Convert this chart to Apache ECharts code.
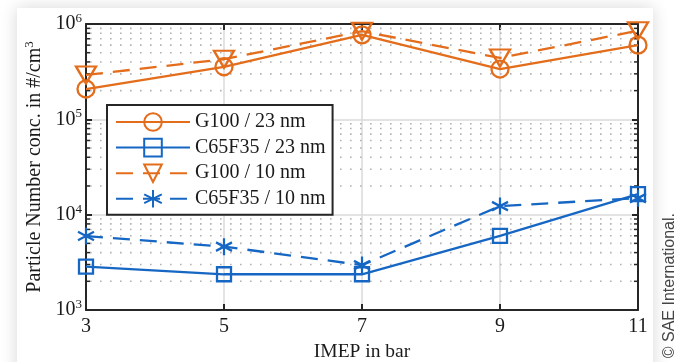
<!DOCTYPE html>
<html>
<head>
<meta charset="utf-8">
<script src="https://cdn.jsdelivr.net/npm/echarts@6/dist/echarts.min.js"></script>
<style>
  html, body { margin: 0; padding: 0; width: 689px; height: 362px; background: #ffffff; overflow: hidden; }
  #card { position: absolute; left: 17px; top: 8px; width: 636px; height: 400px; background: #ffffff;
          box-shadow: 0 0 16px rgba(0, 0, 0, 0.16); }
  #chart { position: absolute; left: 0; top: 0; width: 689px; height: 362px; }
</style>
</head>
<body>
<div id="card"></div>
<div id="chart"></div>
<script>
// IMEP operating points (bar)
const imep = [3, 5, 7, 9, 11];
// Particle number concentration, #/cm^3
const g100_23nm   = [2.08e5, 3.56e5, 7.7e5, 3.37e5, 6.0e5];
const c65f35_23nm = [2.85e3, 2.37e3, 2.37e3, 6.0e3, 1.64e4];
const g100_10nm   = [2.92e5, 4.27e5, 8.4e5, 4.4e5, 8.5e5];
const c65f35_10nm = [5.97e3, 4.62e3, 2.96e3, 1.23e4, 1.49e4];

const seriesNames = ['G100 / 23 nm', 'C65F35 / 23 nm', 'G100 / 10 nm', 'C65F35 / 10 nm'];
const xTicks = [3, 5, 7, 9, 11];
const decades = [1e3, 1e4, 1e5, 1e6];
// minor log ticks 2..9 within each decade
const minorTicks = [];
decades.slice(0, 3).forEach(d => { for (let m = 2; m <= 9; m++) minorTicks.push(m * d); });

const ORANGE = '#e36d1b';
const BLUE = '#1667c3';
const INK = '#1a1a1a';
const SERIF = '"Liberation Serif", "Times New Roman", serif';
const ASTERISK = 'path://M0,-10L0,10M-8.66,-5L8.66,5M-8.66,5L8.66,-5';

const pairs = arr => imep.map((x, i) => [x, arr[i]]);

function lineSeries(name, data, color, symbol, size, dashed, rotate) {
  return {
    name, type: 'line', data, z: 5,
    symbol, symbolSize: size, symbolRotate: rotate || 0, symbolKeepAspect: false,
    showAllSymbol: true,
    lineStyle: { color, width: 2.3, type: dashed ? [17, 10] : 'solid' },
    itemStyle: { color: 'transparent', borderColor: color, borderWidth: 2.3 },
    emphasis: { disabled: true }
  };
}

const supRich = (size) => ({
  b: { fontFamily: SERIF, fontSize: size, color: INK, lineHeight: size + 4 },
  s: { fontFamily: SERIF, fontSize: 13, color: INK, verticalAlign: 'top', lineHeight: 13, padding: [0, 0, 9, 0] }
});

const chart = echarts.init(document.getElementById('chart'), null, { renderer: 'canvas' });
const option = {
  animation: false,
  backgroundColor: 'transparent',
  grid: { left: 86, top: 24, width: 552, height: 286, containLabel: false, outerBoundsMode: 'none' },
  xAxis: [{
    type: 'value', min: 3, max: 11, interval: 2, position: 'bottom',
    name: 'IMEP in bar', nameLocation: 'middle', nameGap: 29,
    nameTextStyle: { fontFamily: SERIF, fontSize: 19.5, color: INK },
    axisLine: { show: true, lineStyle: { color: '#262626', width: 2 } },
    axisTick: { show: true, inside: true, length: 6, lineStyle: { color: '#262626', width: 2 } },
    axisLabel: { fontFamily: SERIF, fontSize: 20, color: INK, margin: 7 },
    splitLine: { show: true, lineStyle: { color: '#dadada', width: 1.5 } }
  }, {
    type: 'value', min: 3, max: 11, interval: 2, position: 'top',
    axisLine: { show: true, lineStyle: { color: '#262626', width: 2 } },
    axisTick: { show: true, inside: true, length: 6, lineStyle: { color: '#262626', width: 2 } },
    axisLabel: { show: false }, splitLine: { show: false }
  }],
  yAxis: [{
    type: 'log', logBase: 10, min: 1e3, max: 1e6, position: 'left',
    name: '{b|Particle Number conc. in #/cm}{s|3}', nameLocation: 'middle', nameGap: 34,
    nameTextStyle: { fontFamily: SERIF, fontSize: 20, color: INK, rich: supRich(20) },
    axisLine: { show: true, lineStyle: { color: '#262626', width: 2 } },
    axisTick: { show: true, inside: true, length: 6, lineStyle: { color: '#262626', width: 2 } },
    axisLabel: {
      margin: 4,
      formatter: v => '{b|10}{s|' + Math.round(Math.log10(v)) + '}',
      rich: supRich(20)
    },
    splitLine: { show: true, lineStyle: { color: '#dadada', width: 1.5 } }
  }, {
    type: 'log', logBase: 10, min: 1e3, max: 1e6, position: 'right',
    axisLine: { show: true, lineStyle: { color: '#262626', width: 2 } },
    axisTick: { show: true, inside: true, length: 6, lineStyle: { color: '#262626', width: 2 } },
    axisLabel: { show: false }, splitLine: { show: false }
  }],
  legend: {
    orient: 'vertical', left: 107, top: 105,
    data: seriesNames,
    itemWidth: 74, itemHeight: 22, itemGap: 5.6,
    padding: [7, 7, 6, 8],
    backgroundColor: '#ffffff', borderColor: '#262626', borderWidth: 2, borderRadius: 0,
    textStyle: { fontFamily: SERIF, fontSize: 20, color: INK },
    selectedMode: false, z: 10
  },
  graphic: [{
    type: 'text', left: 662, top: 213, rotation: Math.PI / 2,
    style: { text: '\u00A9 SAE International.', fontFamily: '"Liberation Sans", Arial, sans-serif', fontSize: 16, fill: '#444' }
  }],
  series: [
    {
      type: 'custom', name: 'minor', xAxisIndex: 0, yAxisIndex: 0, z: 1, silent: true,
      data: minorTicks.map(v => [3, v]),
      renderItem: (params, api) => {
        const v = api.value(1);
        const a = api.coord([3, v]);
        const b = api.coord([11, v]);
        return {
          type: 'group', children: [
            { type: 'line', shape: { x1: a[0] + 4, y1: a[1], x2: b[0] - 4, y2: b[1] },
              style: { stroke: '#b2b2b2', lineWidth: 1.6, lineDash: [1.6, 8.4] } },
            { type: 'line', shape: { x1: a[0], y1: a[1], x2: a[0] + 4, y2: a[1] },
              style: { stroke: '#262626', lineWidth: 1.5 } },
            { type: 'line', shape: { x1: b[0] - 4, y1: b[1], x2: b[0], y2: b[1] },
              style: { stroke: '#262626', lineWidth: 1.5 } }
          ]
        };
      }
    },
    lineSeries(seriesNames[0], pairs(g100_23nm), ORANGE, 'circle', 17, false),
    lineSeries(seriesNames[1], pairs(c65f35_23nm), BLUE, 'rect', 14, false),
    lineSeries(seriesNames[2], pairs(g100_10nm), ORANGE, 'triangle', [20, 17], true, 180),
    lineSeries(seriesNames[3], pairs(c65f35_10nm), BLUE, ASTERISK, [16, 17], true)
  ]
};
chart.setOption(option);
</script>
</body>
</html>
